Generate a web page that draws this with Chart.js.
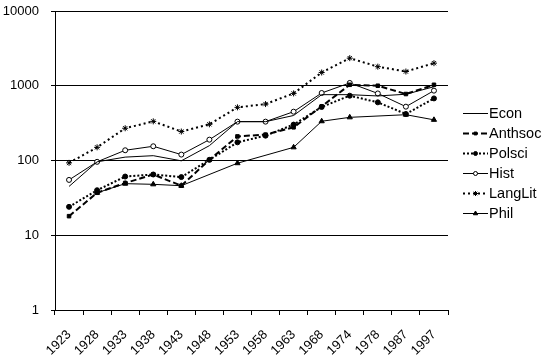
<!DOCTYPE html>
<html>
<head>
<meta charset="utf-8">
<script src="https://cdn.jsdelivr.net/npm/chart.js@4/dist/chart.umd.min.js"></script>
<style>
  html, body { margin: 0; padding: 0; background: #fff; }
  #wrap { width: 543px; height: 358px; }
</style>
</head>
<body>
<div id="wrap"><canvas id="myChart" width="543" height="358"></canvas></div>
<script>
    var years = ['1923', '1928', '1933', '1938', '1943', '1948', '1953', '1958', '1963', '1968', '1974', '1978', '1987', '1997']
    var econ = [45, 96, 111, 116, 99, 158, 331, 331, 400, 760, 760, 730, 770, 970]
    var anthsoc = [18, 37, 50, 65, 46, 102, 210, 222, 278, 530, 1030, 1000, 775, 1030]
    var polsci = [24, 40, 61, 65, 60, 102, 175, 215, 302, 520, 736, 600, 419, 677]
    var hist = [55, 96, 137, 155, 120, 190, 331, 331, 450, 800, 1090, 789, 525, 860]
    var langlit = [93, 150, 270, 334, 244, 305, 514, 569, 790, 1505, 2340, 1800, 1550, 2005]
    var phil = [null, 37, 49, 48, 46, null, 92, null, 150, 335, 378, null, 410, 350]
    var yTicks = [1, 10, 100, 1000, 10000]

    var font = "'Liberation Sans', Arial, sans-serif"

    // excel style legend: line sample with marker in the middle
    var sideLegend = {
        id: 'sideLegend',
        afterDraw: function(chart) {
            var ctx = chart.ctx
            chart.data.datasets.forEach(function(ds, i) {
                var y = 113.5 + i * 20
                ctx.save()
                ctx.strokeStyle = '#000'
                ctx.lineWidth = ds.borderWidth
                ctx.setLineDash(ds.borderDash || [])
                ctx.beginPath()
                ctx.moveTo(463, y)
                ctx.lineTo(488, y)
                ctx.stroke()
                ctx.setLineDash([])
                if (ds.pointRadius > 0) {
                    ctx.fillStyle = ds.pointBackgroundColor
                    ctx.strokeStyle = '#000'
                    ctx.lineWidth = 1
                    Chart.helpers.drawPoint(ctx, {
                        pointStyle: ds.pointStyle,
                        radius: ds.pointRadius - 0.5,
                        rotation: 0,
                        borderWidth: 1
                    }, 475.5, y)
                }
                ctx.fillStyle = '#000'
                ctx.font = '14.5px ' + font
                ctx.textBaseline = 'middle'
                ctx.textAlign = 'left'
                ctx.fillText(ds.label, 489, y + 0.5)
                ctx.restore()
            })
        }
    }

    function series(label, data, dash, width, style, radius, fill) {
        return {
            label: label,
            data: data,
            borderColor: '#000',
            borderWidth: width,
            borderDash: dash,
            pointStyle: style,
            pointRadius: radius,
            pointBackgroundColor: fill,
            pointBorderColor: '#000',
            pointBorderWidth: 1,
            tension: 0,
            spanGaps: true,
            fill: false
        }
    }

    var ctx = document.getElementById('myChart').getContext('2d')
    var myChart = new Chart(ctx, {
        type: 'line',
        data: {
            labels: years,
            datasets: [
                series('Econ', econ, [], 1, 'line', 0, '#000'),
                series('Anthsoc', anthsoc, [6, 3], 2, 'rect', 2.5, '#000'),
                series('Polsci', polsci, [2, 2], 2, 'circle', 2.5, '#000'),
                series('Hist', hist, [], 1, 'circle', 2.5, '#fff'),
                series('LangLit', langlit, [2, 3], 2, 'star', 3, '#000'),
                series('Phil', phil, [], 1, 'triangle', 3, '#000')
            ]
        },
        options: {
            responsive: false,
            animation: false,
            layout: {
                padding: { top: 0, right: 95, left: 0, bottom: 0 }
            },
            plugins: {
                legend: { display: false },
                tooltip: { enabled: false }
            },
            scales: {
                x: {
                    type: 'category',
                    offset: true,
                    grid: {
                        offset: true,
                        drawOnChartArea: false,
                        color: '#000',
                        tickLength: 5
                    },
                    border: { color: '#000' },
                    ticks: {
                        color: '#000',
                        font: { family: font, size: 13 },
                        minRotation: 45,
                        maxRotation: 45,
                        autoSkip: false,
                        padding: 12
                    },
                    afterFit: function(scale) { scale.height = 48 }
                },
                y: {
                    type: 'logarithmic',
                    min: 1,
                    max: 10000,
                    grid: {
                        color: '#000',
                        tickLength: 4
                    },
                    border: { color: '#000' },
                    ticks: {
                        color: '#000',
                        font: { family: font, size: 13 },
                        padding: 12,
                        callback: function(v) { return String(v) }
                    },
                    afterBuildTicks: function(scale) {
                        scale.ticks = yTicks.map(function(v) { return { value: v, major: true } })
                    },
                    afterFit: function(scale) {
                        scale.width = 55
                        scale.paddingTop = 11
                        scale.paddingBottom = 0
                    }
                }
            }
        },
        plugins: [sideLegend]
    })
</script>
</body>
</html>
